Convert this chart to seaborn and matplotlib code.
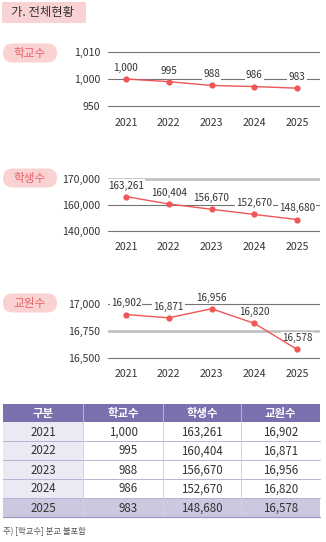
import numpy as np
import pandas as pd
import matplotlib
matplotlib.use('Agg')
import matplotlib.pyplot as plt
import seaborn as sns
from matplotlib.patches import FancyBboxPatch, Rectangle

# ---------------- data ----------------
years = [2021, 2022, 2023, 2024, 2025]
schools = [1000, 995, 988, 986, 983]
students = [163261, 160404, 156670, 152670, 148680]
teachers = [16902, 16871, 16956, 16820, 16578]

school_ticks = [950, 1000, 1010]
student_ticks = [140000, 160000, 170000]
teacher_ticks = [16500, 16750, 17000]

chart_titles = ['학교수', '학생수', '교원수']
table_header = ['구분', '학교수', '학생수', '교원수']
section_title = '가. 전체현황'
footnote = '주) [학교수] 분교 불포함'

# ---------------- style ----------------
sns.set_theme(style='white')
plt.rcParams['font.family'] = ['Noto Sans CJK KR', 'DejaVu Sans']

RED = '#f05557'
PILL_BG = '#fbd2d2'
PILL_FG = '#e8636a'
TXT = '#333333'
DARK_GRID = ('#747474', 0.8)
LIGHT_GRID = ('#bdbdbd', 1.8)

W, H = 326, 542
fig = plt.figure(figsize=(W / 100, H / 100), dpi=100)
bg = fig.add_axes([0, 0, 1, 1])
bg.set_xlim(0, W)
bg.set_ylim(H, 0)
bg.axis('off')

# section title
bg.add_patch(Rectangle((2, 2), 84, 21, fc='#f9d3d3', ec='none'))
bg.text(11, 12.5, section_title, fontsize=8.9, color=TXT, va='center', ha='left')


def px_axes(x0, y0, x1, y1):
    return fig.add_axes([x0 / W, 1 - y1 / H, (x1 - x0) / W, (y1 - y0) / H])


def piecewise(ticks):
    a, b, c = ticks
    kv = [a - 20 * (b - a), a, b, c, c + 20 * (c - b)]
    kt = [-20, 0, 1, 2, 22]
    fwd = lambda v: np.interp(v, kv, kt)
    inv = lambda t: np.interp(t, kt, kv)
    return fwd, inv


charts = [
    dict(vals=schools, ticks=school_ticks, title=chart_titles[0],
         top=52, bot=106, pill=53, grid=[DARK_GRID, DARK_GRID, DARK_GRID]),
    dict(vals=students, ticks=student_ticks, title=chart_titles[1],
         top=179.3, bot=230.7, pill=178, grid=[DARK_GRID, DARK_GRID, LIGHT_GRID]),
    dict(vals=teachers, ticks=teacher_ticks, title=chart_titles[2],
         top=304, bot=357.7, pill=303, grid=[DARK_GRID, LIGHT_GRID, DARK_GRID]),
]

x_left, x_right = 108, 320
x_first, x_last = 126, 297
step = (x_last - x_first) / (years[-1] - years[0])
xlim = (years[0] - (x_first - x_left) / step, years[-1] + (x_right - x_last) / step)

for ch in charts:
    ext = 7
    ax = px_axes(x_left, ch['top'] - ext, x_right, ch['bot'] + ext)
    fwd, inv = piecewise(ch['ticks'])
    ax.set_yscale('function', functions=(fwd, inv))
    unit = (ch['bot'] - ch['top']) / 2
    ax.set_ylim(inv(-ext / unit), inv(2 + ext / unit))
    ax.set_xlim(*xlim)
    df = pd.DataFrame({'year': years, 'value': ch['vals']})
    sns.lineplot(data=df, x='year', y='value', ax=ax, color=RED, linewidth=1,
                 marker='o', markersize=4.5, markeredgewidth=0, zorder=4)
    for t, (gc, lw) in zip(ch['ticks'], ch['grid']):
        ax.axhline(t, color=gc, lw=lw, zorder=1)
    for x, v in zip(years, ch['vals']):
        ax.annotate(f'{v:,}', (x, v), xytext=(0, 8), textcoords='offset points',
                    ha='center', va='center', fontsize=7.2, color=TXT, zorder=3,
                    bbox=dict(boxstyle='square,pad=0.12', fc='white', ec='none'))
    ax.set_yticks(ch['ticks'])
    ax.set_yticklabels([f'{t:,}' for t in ch['ticks']])
    ax.set_xticks(years)
    ax.set_xticklabels([str(y) for y in years])
    ax.tick_params(axis='y', length=0, pad=5.5, labelsize=7.6, labelcolor=TXT)
    ax.tick_params(axis='x', length=0, pad=3.3, labelsize=7.6, labelcolor=TXT)
    ax.set_xlabel('')
    ax.set_ylabel('')
    ax.patch.set_alpha(0)
    for s in ax.spines.values():
        s.set_visible(False)
    # pill label
    cy = ch['pill']
    bg.add_patch(FancyBboxPatch((3, cy - 9.5), 54, 19,
                                boxstyle='round,pad=0,rounding_size=9.5',
                                fc=PILL_BG, ec='none'))
    bg.text(30, cy + 0.5, ch['title'], fontsize=8.4, color=PILL_FG, ha='center',
            va='center', fontweight='medium')

# ---------------- table ----------------
col_edges = [3, 83, 163, 241, 320]
row_edges = [404, 422, 441, 460, 479, 498, 517]
HEAD = '#7b70ae'
COL0 = '#ebe9f4'
LAST = '#cbc8e0'
LINE = '#b8b3d4'

rows = list(zip(years, schools, students, teachers))
nrows = len(rows)
# header
bg.add_patch(Rectangle((col_edges[0], row_edges[0]), col_edges[-1] - col_edges[0],
                       row_edges[1] - row_edges[0], fc=HEAD, ec='none'))
for j, h in enumerate(table_header):
    cx = (col_edges[j] + col_edges[j + 1]) / 2
    bg.text(cx, (row_edges[0] + row_edges[1]) / 2, h, color='white', fontsize=8.2,
            fontweight='bold', ha='center', va='center')
for i, r in enumerate(rows):
    y0, y1 = row_edges[i + 1], row_edges[i + 2]
    last = i == nrows - 1
    for j in range(4):
        fc = LAST if last else (COL0 if j == 0 else 'white')
        bg.add_patch(Rectangle((col_edges[j], y0), col_edges[j + 1] - col_edges[j],
                               y1 - y0, fc=fc, ec='none'))
    cy = (y0 + y1) / 2 + 0.5
    bg.text((col_edges[0] + col_edges[1]) / 2, cy, str(r[0]), fontsize=8.3,
            color=TXT, ha='center', va='center')
    bg.text(138, cy, f'{r[1]:,}', fontsize=8.3, color=TXT, ha='right', va='center')
    bg.text((col_edges[2] + col_edges[3]) / 2, cy, f'{r[2]:,}', fontsize=8.3,
            color=TXT, ha='center', va='center')
    bg.text((col_edges[3] + col_edges[4]) / 2, cy, f'{r[3]:,}', fontsize=8.3,
            color=TXT, ha='center', va='center')
    if i < nrows - 1:
        bg.plot([col_edges[0], col_edges[-1]], [y1, y1], color=LINE, lw=0.7)
# vertical separators
for xe in col_edges[1:-1]:
    bg.plot([xe, xe], [row_edges[0], row_edges[1]], color='#b3acd6', lw=0.8)
    bg.plot([xe, xe], [row_edges[1], row_edges[-1]], color='#d3d0e6', lw=0.7)
bg.plot([col_edges[0], col_edges[-1]], [row_edges[-1], row_edges[-1]],
        color='#9d98c2', lw=0.9)

bg.text(3, 532, footnote, fontsize=6, color='#555555', ha='left', va='center')

fig.savefig('out.png', dpi=100)
